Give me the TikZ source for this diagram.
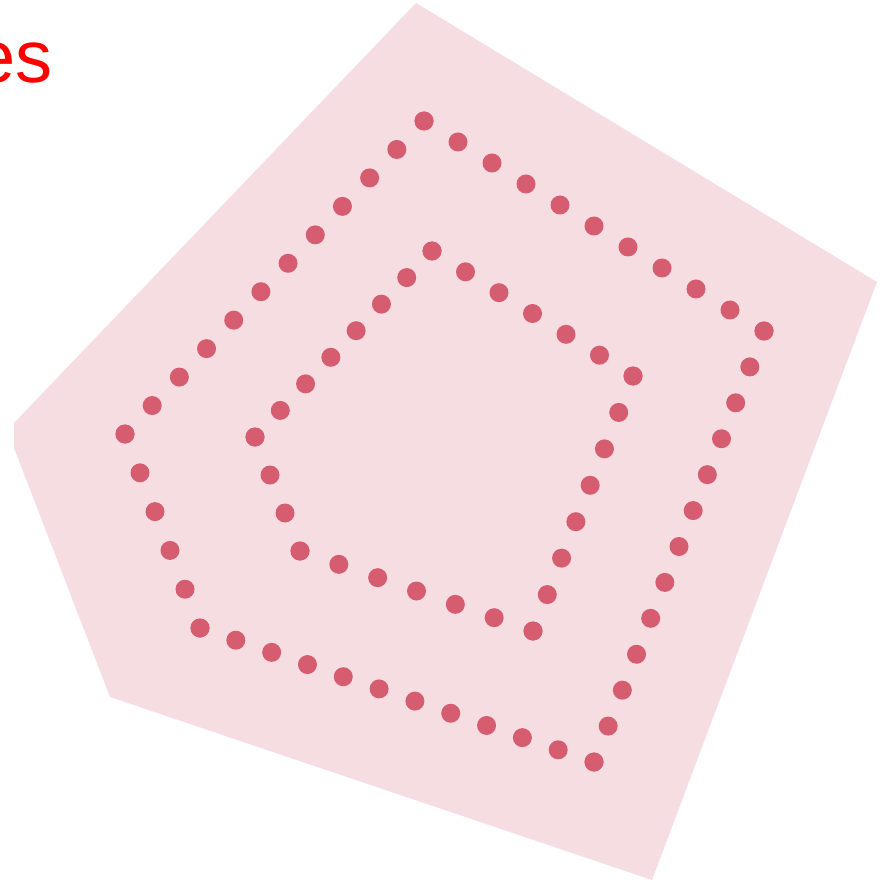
\documentclass[tikz,border=0pt]{standalone}
\usepackage{fontspec}
\setmainfont{Liberation Sans}
\usepackage{xcolor}
\usepackage{tikz}
\usetikzlibrary{positioning, calc}

\definecolor{shapepink}{HTML}{F6DDE2}
\definecolor{dotrose}{HTML}{D65D70}

\begin{document}
\begin{tikzpicture}[
    x=1pt, y=-1pt,
    pad/.style={fill=shapepink, draw=none},
    dotmark/.style={fill=dotrose},
    title/.style={font=\fontsize{74}{80}\selectfont, text=red, inner sep=0pt, anchor=base east},
]
\useasboundingbox (0,0) rectangle (888,882);

\fill[pad] (416,3) -- (877,282) -- (652,880) -- (110,697) -- (14,448) -- (14,423) -- cycle;

\node[title] (heading) at (53,83) {es};

\coordinate (o1) at (424,121);
\coordinate (o2) at (764,331);
\coordinate (o3) at (594,762);
\coordinate (o4) at (200,628);
\coordinate (o5) at (125,434);

\coordinate (i1) at (432,251);
\coordinate (i2) at (633,376);
\coordinate (i3) at (533,631);
\coordinate (i4) at (300,551);
\coordinate (i5) at (255,437);

\foreach \a/\b/\n in {o1/o2/10, o2/o3/12, o3/o4/11, o4/o5/5, o5/o1/11,
                      i1/i2/6, i2/i3/7, i3/i4/6, i4/i5/3, i5/i1/7} {
    \foreach \k in {0,...,\n} {
        \fill[dotmark] ($(\a)!{\k/\n}!(\b)$) circle (9.5);
    }
}

\end{tikzpicture}
\end{document}
